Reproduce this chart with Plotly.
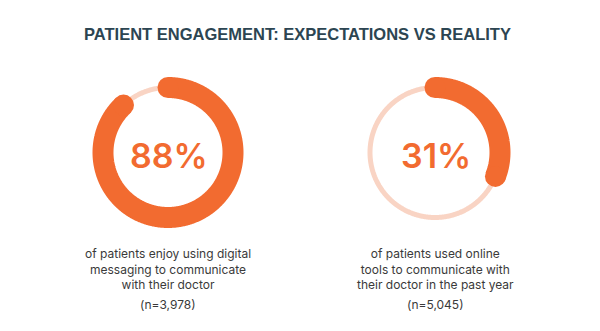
import numpy as np
import plotly.graph_objects as go

# Survey results shown as progress rings
percents = [88, 31]
value_labels = ["88%", "31%"]
descriptions = [
    "of patients enjoy using digital<br>messaging to communicate<br>with their doctor",
    "of patients used online<br>tools to communicate with<br>their doctor in the past year",
]
sample_sizes = ["(n=3,978)", "(n=5,045)"]
title_text = "PATIENT ENGAGEMENT: EXPECTATIONS VS REALITY"

W, H = 600, 331
ORANGE = "#F26B30"
TRACK = "#F9D4C4"
TITLE_COLOR = "#2C4552"
BODY_COLOR = "#3A3A3A"

centers_x = [168, 435]
center_y = 152.5
radius = 65
ring_width = 21

fig = go.Figure()

for cx, pct in zip(centers_x, percents):
    # thin full background track
    t = np.linspace(0, 2 * np.pi, 721)
    fig.add_trace(go.Scatter(
        x=cx + radius * np.sin(t), y=center_y - radius * np.cos(t),
        mode="lines", line=dict(color=TRACK, width=5, simplify=False),
        hoverinfo="skip", showlegend=False,
    ))
    # progress arc, clockwise from 12 o'clock
    end = 2 * np.pi * pct / 100
    a = np.linspace(0, end, max(int(pct * 8), 40))
    xs = cx + radius * np.sin(a)
    ys = center_y - radius * np.cos(a)
    fig.add_trace(go.Scatter(
        x=xs, y=ys, mode="lines",
        line=dict(color=ORANGE, width=ring_width, simplify=False),
        hoverinfo="skip", showlegend=False,
    ))
    # rounded caps at both ends of the arc
    fig.add_trace(go.Scatter(
        x=[xs[0], xs[-1]], y=[ys[0], ys[-1]], mode="markers",
        marker=dict(color=ORANGE, size=ring_width, line=dict(width=0)),
        hoverinfo="skip", showlegend=False,
    ))

annotations = [dict(
    text=title_text, x=297, y=34, xref="x", yref="y",
    showarrow=False, xanchor="center", yanchor="middle",
    font=dict(family="Liberation Sans", size=16.5, color=TITLE_COLOR, weight="bold"),
)]
for cx, lab, desc, n in zip(centers_x, value_labels, descriptions, sample_sizes):
    annotations.append(dict(
        text=lab, x=cx + 1, y=155, xref="x", yref="y",
        showarrow=False, xanchor="center", yanchor="middle",
        font=dict(family="Inter", size=34, color=ORANGE, weight=600),
    ))
    annotations.append(dict(
        text=desc, x=cx, y=269, xref="x", yref="y",
        showarrow=False, xanchor="center", yanchor="middle", align="center",
        font=dict(family="Inter", size=12, color=BODY_COLOR),
    ))
    annotations.append(dict(
        text=n, x=cx, y=304, xref="x", yref="y",
        showarrow=False, xanchor="center", yanchor="middle",
        font=dict(family="Inter", size=12, color=BODY_COLOR),
    ))

fig.update_layout(
    width=W, height=H,
    margin=dict(l=0, r=0, t=0, b=0),
    paper_bgcolor="white", plot_bgcolor="white",
    xaxis=dict(range=[0, W], visible=False, fixedrange=True),
    yaxis=dict(range=[H, 0], visible=False, fixedrange=True),
    annotations=annotations,
)

fig.write_html("out.html", config={"displayModeBar": False})
